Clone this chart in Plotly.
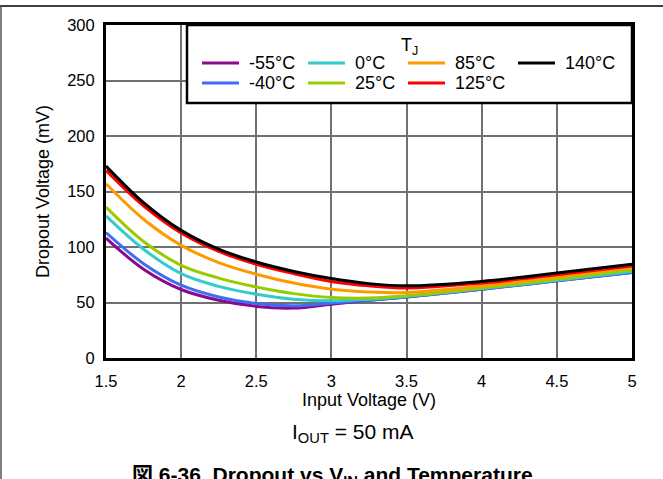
import plotly.graph_objects as go

# input voltage (V)
vin = [1.5, 1.75, 2.0, 2.25, 2.5, 2.75, 3.0, 3.25, 3.5, 4.0, 4.5, 5.0]

# dropout voltage (mV) per junction temperature
d_m55 = [108, 80, 61.7, 52, 46.5, 45, 48.5, 52, 55, 62, 69.5, 77]
d_m40 = [113, 85, 65.6, 55, 49, 47, 49.5, 52, 55, 62, 69.5, 77]
d_0 = [128, 98, 76, 64.5, 57.5, 53, 51.5, 53, 55.5, 62.5, 70, 78]
d_25 = [136, 105, 83.5, 72, 64, 58, 54.5, 54, 56, 63, 71, 79.5]
d_85 = [157, 125, 101.5, 86, 75.5, 67.5, 62, 59.5, 59, 65, 73, 81.5]
d_125 = [169, 137, 112.6, 96, 84.5, 76, 69, 65, 63, 67.5, 75, 83]
d_140 = [173, 140, 115, 98, 86.5, 78, 71.6, 67, 65, 69, 76.5, 84.5]

names = ['-55°C', '-40°C', '0°C', '25°C', '85°C', '125°C', '140°C']
series = [d_m55, d_m40, d_0, d_25, d_85, d_125, d_140]
colors = ['#8B0A8B', '#3D6DF2', '#33CCCC', '#99CC00', '#FF9900', '#FF0000', '#000000']

FONT = 'Liberation Sans, Arial, sans-serif'
L, R, T, B = 106, 31, 25, 121
W, H = 663, 479
pw, ph = W - L - R, H - T - B


def px(x):  # page pixel -> paper x
    return (x - L) / pw


def py(y):  # page pixel -> paper y
    return (H - B - y) / ph


fig = go.Figure()
for n, y, c in zip(names, series, colors):
    fig.add_trace(go.Scatter(x=vin, y=y, name=n, mode='lines',
                             line=dict(color=c, width=3, shape='spline', smoothing=1.0)))

fig.update_layout(
    width=W, height=H,
    margin=dict(l=L, r=R, t=T, b=B),
    paper_bgcolor='white', plot_bgcolor='white',
    font=dict(family=FONT, size=15, color='black'),
    showlegend=False,
)

fig.update_xaxes(
    range=[1.5, 5], dtick=0.5, tick0=1.5,
    showgrid=True, gridcolor='#707070', gridwidth=1.5,
    showline=True, linecolor='black', linewidth=3, mirror=True,
    ticks='', ticklabelstandoff=6, zeroline=False,
    tickfont=dict(family=FONT, size=16.5, color='black'),
    title=dict(text='Input Voltage (V)', standoff=2),
)
fig.update_yaxes(
    range=[0, 300], dtick=50,
    showgrid=True, gridcolor='#707070', gridwidth=1.5,
    showline=True, linecolor='black', linewidth=3, mirror=True,
    ticks='', ticklabelstandoff=5, zeroline=False,
    tickfont=dict(family=FONT, size=16.5, color='black'),
    title=dict(text='Dropout Voltage (mV)', standoff=13),
)

# legend box drawn by hand so it reads column by column like the original
fig.add_shape(type='rect', xref='paper', yref='paper', x0=px(187), x1=px(632),
              y0=py(103), y1=py(25), fillcolor='white',
              line=dict(color='black', width=2.5), layer='above')
fig.add_annotation(text='T<sub>J</sub>', xref='paper', yref='paper', x=px(410), y=py(46),
                   xanchor='center', yanchor='middle', showarrow=False,
                   font=dict(size=18))
col_x = [202, 308, 408, 518]
row_y = [63, 83]
for i, (n, c) in enumerate(zip(names, colors)):
    x0, y0 = col_x[i // 2], row_y[i % 2]
    fig.add_shape(type='line', xref='paper', yref='paper', x0=px(x0), x1=px(x0 + 37),
                  y0=py(y0), y1=py(y0), line=dict(color=c, width=3), layer='above')
    fig.add_annotation(text=n, xref='paper', yref='paper', x=px(x0 + 45), y=py(y0),
                       xanchor='left', yanchor='middle', showarrow=False,
                       font=dict(size=18))

fig.add_annotation(text='I<sub>OUT</sub> = 50 mA', xref='paper', yref='paper',
                   x=0.47, y=-0.225, xanchor='center', yanchor='middle', showarrow=False,
                   font=dict(size=21))
fig.add_annotation(text='<b>図 6-36. Dropout vs V<sub>IN</sub> and Temperature</b>',
                   xref='paper', yref='paper', x=0.43, y=-0.309,
                   xanchor='center', yanchor='top', showarrow=False,
                   font=dict(size=21, family='Liberation Sans, Noto Sans CJK JP, sans-serif'))

# page frame lines at top and left
fig.add_shape(type='line', xref='paper', yref='paper', x0=px(0), x1=px(663),
              y0=py(6), y1=py(6), line=dict(color='black', width=1.5))
fig.add_shape(type='line', xref='paper', yref='paper', x0=px(1), x1=px(1),
              y0=py(6), y1=py(479), line=dict(color='#555', width=1.5))

fig.write_html('out.html', config={'displayModeBar': False},
               post_script="document.body.style.margin='0px';")
